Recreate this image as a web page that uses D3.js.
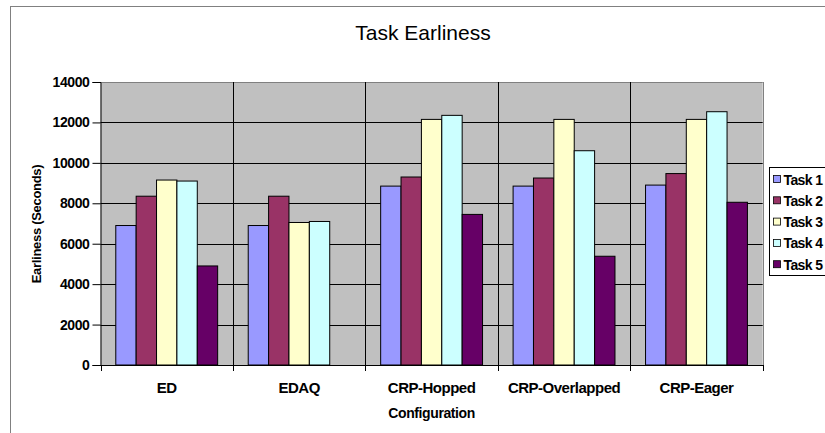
<!DOCTYPE html>
<html>
<head>
<meta charset="utf-8">
<script src="https://cdn.jsdelivr.net/npm/d3@7"></script>
<style>
  body { margin: 0; background: #fff; }
  text { font-family: "Liberation Sans", Arial, sans-serif; }
</style>
</head>
<body>
<div id="chart"></div>
<script>
const categories = ["ED", "EDAQ", "CRP-Hopped", "CRP-Overlapped", "CRP-Eager"];
const seriesNames = ["Task 1", "Task 2", "Task 3", "Task 4", "Task 5"];
const task1 = [6900, 6900, 8850, 8850, 8900];
const task2 = [8350, 8350, 9300, 9250, 9470];
const task3 = [9150, 7050, 12150, 12150, 12150];
const task4 = [9100, 7100, 12350, 10600, 12530];
const task5 = [4900, 0, 7450, 5380, 8050];
const yTicks = [0, 2000, 4000, 6000, 8000, 10000, 12000, 14000];
const colors = ["#9999ff", "#993366", "#ffffcc", "#ccffff", "#660066"];

const series = [task1, task2, task3, task4, task5];

const W = 825, H = 433;
const svg = d3.select('#chart').append('svg').attr('width', W).attr('height', H);

// chart area border (runs off the right edge like the original)
svg.append('rect').attr('x', 10.5).attr('y', 6.5).attr('width', 900).attr('height', 500)
  .attr('fill', '#fff').attr('stroke', '#808080').attr('stroke-width', 1);

const plot = { left: 100.5, right: 762.7, top: 82, bottom: 365 };

const x0 = d3.scaleBand().domain(categories).range([plot.left, plot.right]).padding(0);
const bw = x0.bandwidth() / 6.5;
const x1 = d3.scaleBand().domain(seriesNames).range([0.75 * bw, 5.75 * bw]).padding(0);
const y = d3.scaleLinear().domain([0, 14000]).range([plot.bottom, plot.top]);

// plot background
svg.append('rect').attr('x', plot.left).attr('y', plot.top)
  .attr('width', plot.right - plot.left).attr('height', plot.bottom - plot.top)
  .attr('fill', '#c0c0c0');

// horizontal gridlines
svg.append('g').selectAll('line').data(yTicks.filter(d => d > 0)).join('line')
  .attr('x1', plot.left).attr('x2', plot.right)
  .attr('y1', d => Math.round(y(d)) + 0.5).attr('y2', d => Math.round(y(d)) + 0.5)
  .attr('stroke', d => d === 14000 ? '#808080' : '#000').attr('stroke-width', 1);

// vertical gridlines at category boundaries
svg.append('g').selectAll('line').data(categories.slice(1)).join('line')
  .attr('x1', d => Math.round(x0(d)) + 0.5).attr('x2', d => Math.round(x0(d)) + 0.5)
  .attr('y1', plot.top).attr('y2', plot.bottom)
  .attr('stroke', '#000').attr('stroke-width', 1);
svg.append('line').attr('x1', Math.round(plot.right) + 0.5).attr('x2', Math.round(plot.right) + 0.5)
  .attr('y1', plot.top).attr('y2', plot.bottom).attr('stroke', '#808080');

// bars
const groups = svg.append('g').selectAll('g').data(categories).join('g')
  .attr('transform', d => `translate(${x0(d)},0)`);
groups.selectAll('rect')
  .data((c, ci) => seriesNames.map((s, si) => ({ s, si, v: series[si][ci] })).filter(d => d.v > 0))
  .join('rect')
  .attr('x', d => x1(d.s)).attr('width', x1.bandwidth())
  .attr('y', d => y(d.v)).attr('height', d => y(0) - y(d.v))
  .attr('fill', d => colors[d.si]).attr('stroke', '#000').attr('stroke-width', 1);

// y axis
const yAxis = svg.append('g').attr('transform', `translate(${plot.left},0)`)
  .call(d3.axisLeft(y).tickValues(yTicks).tickSize(8).tickPadding(3).tickFormat(d3.format('d')));
yAxis.select('.domain').attr('stroke', '#000');
yAxis.selectAll('.tick line').attr('stroke', '#000');
yAxis.selectAll('text').attr('fill', '#000').style('font-size', '14px').style('font-weight', 'bold')
  .style('letter-spacing', '-0.4px').style('font-family', '"Liberation Sans", Arial, sans-serif');

// x axis
const xAxis = svg.append('g').attr('transform', `translate(0,${plot.bottom})`)
  .call(d3.axisBottom(x0).tickSize(0).tickPadding(17));
xAxis.select('.domain').attr('stroke', '#000');
xAxis.selectAll('text').attr('fill', '#000').style('font-size', '15px').style('font-weight', 'bold')
  .style('letter-spacing', '-0.5px').style('font-family', '"Liberation Sans", Arial, sans-serif');
xAxis.append('g').selectAll('line').data(categories.concat(['end'])).join('line')
  .attr('x1', (d, i) => Math.round(plot.left + i * x0.step()) + 0.5)
  .attr('x2', (d, i) => Math.round(plot.left + i * x0.step()) + 0.5)
  .attr('y1', 0).attr('y2', 6).attr('stroke', '#000');

// titles
svg.append('text').attr('x', 423).attr('y', 40).attr('text-anchor', 'middle')
  .style('font-size', '21px').attr('fill', '#000').text('Task Earliness');
svg.append('text').attr('x', 431.6).attr('y', 418).attr('text-anchor', 'middle')
  .style('font-size', '14px').style('font-weight', 'bold').style('letter-spacing', '-0.4px')
  .attr('fill', '#000').text('Configuration');
svg.append('text').attr('transform', 'translate(41,224) rotate(-90)').attr('text-anchor', 'middle')
  .style('font-size', '13px').style('font-weight', 'bold').style('letter-spacing', '-0.3px')
  .attr('fill', '#000').text('Earliness (Seconds)');

// legend
const leg = svg.append('g').attr('transform', 'translate(769.5,167.5)');
leg.append('rect').attr('width', 80).attr('height', 108).attr('fill', '#fff').attr('stroke', '#000');
const item = leg.selectAll('g').data(seriesNames).join('g')
  .attr('transform', (d, i) => `translate(0,${12 + i * 21.3})`);
item.append('rect').attr('x', 4).attr('y', -4).attr('width', 7).attr('height', 7)
  .attr('fill', (d, i) => colors[i]).attr('stroke', '#000').attr('stroke-width', 0.8);
item.append('text').attr('x', 14).attr('y', 5).text(d => d)
  .style('font-size', '14px').style('font-weight', 'bold').style('letter-spacing', '-0.6px').attr('fill', '#000');
</script>
</body>
</html>
